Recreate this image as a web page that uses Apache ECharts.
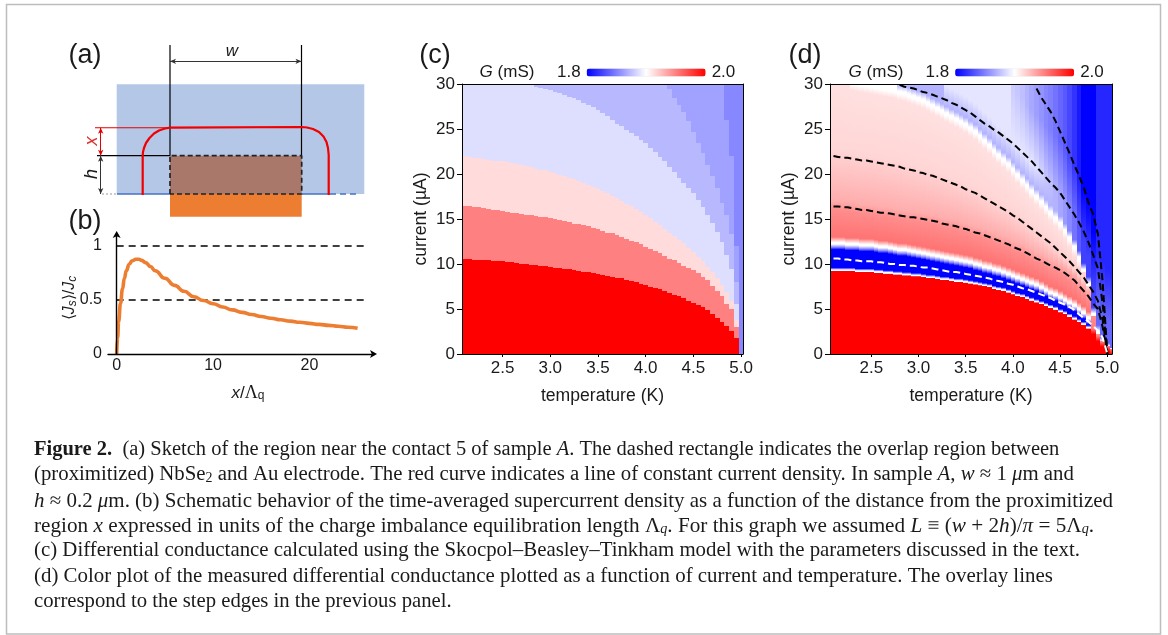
<!DOCTYPE html>
<html><head><meta charset="utf-8">
<style>html,body{margin:0;padding:0;background:#fff}#c{width:1168px;height:635px}</style>
<script src="https://cdn.jsdelivr.net/npm/echarts@6/dist/echarts.min.js"></script>
</head><body><div id="c"></div>
<script>
// ---------- tick labels ----------
const tempTicks = [2.5, 3.0, 3.5, 4.0, 4.5, 5.0];
const bXTicks = [0, 10, 20];
const bYTicks = [0, 0.5, 1];

// ---------- panel (b): supercurrent density ----------
const bX = [0,0.1,0.2,0.4,0.6,0.8,1,1.3,1.6,2,2.3,2.6,3,3.5,4,5,6,7,8,9,10,11,12,13,14,15,16,17,18,19,20,21,22,23,24,25];
const bY = [0,0.15,0.3,0.47,0.6,0.7,0.77,0.83,0.862,0.876,0.876,0.866,0.845,0.81,0.77,0.7,0.635,0.58,0.53,0.495,0.465,0.435,0.408,0.385,0.365,0.347,0.331,0.317,0.304,0.293,0.283,0.274,0.265,0.256,0.247,0.238];
const bLevels = [1, 0.5];

// ---------- panel (a): sketch, units relative to the overlap corner ----------
const sketchBlue = [-53.3, 194.3, 0, 109.7];
const sketchOverlap = [0, 131.7, 0, 38.3];
const sketchElectrode = [0, 131.7, -22.7, 0];
const sketchContour = [[-27.3,-1],[-27.3,38.3],[-27,42],[-26,46],[-24,51],[-20.5,56],[-16,60.5],[-11,63.5],[-5,65.5],[0,66.3],[131.5,67],[137,66.5],[143,65],[149,62],[153.5,57.5],[156.5,52],[158,46],[158.7,39],[158.7,-1]];

// ---------- panels (c), (d): temperature columns ----------
const temps = [2.10,2.15,2.20,2.25,2.30,2.35,2.40,2.45,2.50,2.55,
  2.60,2.65,2.70,2.75,2.80,2.85,2.90,2.95,3.00,3.05,
  3.10,3.15,3.20,3.25,3.30,3.35,3.40,3.45,3.50,3.55,
  3.60,3.65,3.70,3.75,3.80,3.85,3.90,3.95,4.00,4.05,
  4.10,4.15,4.20,4.25,4.30,4.35,4.40,4.45,4.50,4.55,
  4.60,4.65,4.70,4.75,4.80,4.85,4.90,4.95,5.00,5.05];

// panel (c): conductance of each step, and the current at the top of each step per column
const stepG = [2.0, 1.95, 1.914, 1.887, 1.872, 1.863, 1.853];
const edge1 = [10.6,10.6,10.5,10.5,10.4,10.4,10.3,10.3,10.3,10.2,
  10.2,10.1,10.0,10.0,9.9,9.9,9.8,9.8,9.7,9.6,
  9.6,9.5,9.4,9.3,9.2,9.1,9.1,9.0,8.9,8.8,
  8.7,8.6,8.5,8.4,8.2,8.1,8.0,7.8,7.7,7.5,
  7.3,7.2,7.0,6.8,6.6,6.4,6.2,5.9,5.7,5.5,
  5.2,4.9,4.4,4.0,3.6,3.1,2.6,1.8,0];
const edge2 = [16.4,16.4,16.3,16.3,16.2,16.1,16.0,16.0,15.9,15.8,
  15.7,15.7,15.6,15.5,15.4,15.3,15.2,15.2,15.1,15.0,
  14.9,14.8,14.7,14.5,14.4,14.3,14.2,14.0,13.9,13.7,
  13.5,13.4,13.2,13.0,12.8,12.6,12.4,12.2,11.9,11.7,
  11.5,11.2,10.9,10.6,10.4,10.1,9.8,9.6,9.3,9.0,
  8.6,8.2,7.6,7.0,6.4,5.6,5.0,3.0,0];
const edge3 = [22.0,21.9,21.8,21.8,21.7,21.6,21.5,21.5,21.4,21.3,
  21.2,21.1,21.0,20.9,20.8,20.6,20.5,20.4,20.2,20.1,
  19.9,19.8,19.6,19.4,19.2,19.0,18.8,18.6,18.3,18.1,
  17.9,17.6,17.3,17.0,16.7,16.4,16.1,15.8,15.4,15.1,
  14.7,14.3,13.9,13.5,13.1,12.7,12.3,11.8,11.3,10.8,
  10.3,9.7,9.1,8.5,7.7,6.9,5.9,3.8,0];
const edge4 = [30,30,30,30,30,30,30,30,30,30,
  30,30,30,30,29.9,29.7,29.6,29.5,29.3,29.1,
  29.0,28.8,28.6,28.4,28.2,27.9,27.7,27.4,27.1,26.8,
  26.4,26.0,25.6,25.3,24.9,24.6,24.2,23.8,23.4,22.9,
  22.4,21.9,21.4,20.8,20.2,19.6,19.0,18.5,17.9,17.1,
  16.3,15.5,14.6,13.6,12.4,11.0,9.5,5.6,0];
const edge5 = [30,30,30,30,30,30,30,30,30,30,
  30,30,30,30,30,30,30,30,30,30,
  30,30,30,30,30,30,30,30,30,30,
  30,30,30,30,30,30,30,30,30,30,
  30,30,30,29.5,28.5,27.7,26.9,25.9,24.7,23.5,
  22.3,21.0,19.8,18.5,16.8,15.5,13.3,8,0];
const edge6 = [30,30,30,30,30,30,30,30,30,30,
  30,30,30,30,30,30,30,30,30,30,
  30,30,30,30,30,30,30,30,30,30,
  30,30,30,30,30,30,30,30,30,30,
  30,30,30,30,30,30,30,30,30,30,
  30,30,30,30,30,26,22,12,0];

// panel (d): measured profile per column
const measIc = [9.2,9.2,9.2,9.2,9.2,9.1,9.1,9.1,9.1,9.0,
  9.0,8.9,8.9,8.8,8.8,8.7,8.7,8.6,8.6,8.5,
  8.4,8.4,8.3,8.2,8.2,8.1,8.0,8.0,7.9,7.8,
  7.7,7.6,7.5,7.4,7.2,7.1,7.0,6.8,6.6,6.4,
  6.3,6.1,5.9,5.7,5.5,5.3,5.1,4.9,4.6,4.4,
  4.1,3.8,3.5,3.2,2.8,2.2,1.4,0.8,0.3,0];
const measBlueTop = [11.6,11.6,11.6,11.5,11.5,11.5,11.4,11.4,11.4,11.3,
  11.2,11.2,11.1,11.0,10.9,10.9,10.8,10.7,10.6,10.5,
  10.4,10.3,10.2,10.1,10.0,9.9,9.8,9.7,9.6,9.5,
  9.3,9.2,9.0,8.9,8.7,8.6,8.4,8.2,8.0,7.8,
  7.6,7.4,7.2,7.0,6.7,6.4,6.1,5.9,5.6,5.3,
  5.0,4.7,4.3,3.9,3.3,2.2,1.4,0.8,0.3,0];
const measWhite = [31,31,30.8,30.5,30.3,30.2,30.1,30,29.9,29.8,
  29.7,29.6,29.5,29.4,29.2,29.1,28.9,28.7,28.5,28.3,
  28.0,27.7,27.4,27.1,26.8,26.5,26.2,25.9,25.6,25.2,
  24.8,24.3,23.8,23.3,22.7,22.2,21.7,21.2,20.6,20.0,
  19.4,18.8,18.2,17.6,17.0,16.4,15.8,15.2,14.6,13.8,
  13.0,12.0,10.8,9.4,7.9,4.5,2.5,1.2,0.5,0];
const measTopG = [1.893,1.893,1.893,1.893,1.893,1.893,1.893,1.893,1.893,1.893,
  1.89,1.89,1.89,1.89,1.89,1.89,1.89,1.89,1.89,1.89,
  1.89,1.89,1.89,1.89,1.89,1.89,1.89,1.89,1.89,1.89,
  1.888,1.888,1.887,1.886,1.885,1.885,1.884,1.883,1.88,1.878,
  1.875,1.87,1.866,1.862,1.858,1.853,1.85,1.845,1.84,1.835,
  1.828,1.82,1.81,1.80,1.80,1.80,1.815,1.815,1.815,1.815];

// ---------- helpers ----------
const SANS = '"Liberation Sans", Arial, sans-serif';
const SERIF = '"Liberation Serif", "Times New Roman", serif';
const AXIS = '#1a1a1a';
function gColor(g){
  const t = Math.max(-1, Math.min(1, (g - 1.9) / 0.1));
  const c = Math.round(255 * (1 - Math.abs(t)));
  return t >= 0 ? `rgb(255,${c},${c})` : `rgb(${c},${c},255)`;
}
const xAxes = [], yAxes = [], series = [];
const grids = [
  {left: 90, top: 40, width: 290, height: 180},
  {left: 108, top: 234, width: 266, height: 120},
  {left: 462, top: 84, width: 281, height: 270},
  {left: 830, top: 84, width: 282, height: 270}
];
// (a)
xAxes.push({gridIndex:0, type:'value', min:-80, max:210, show:false});
yAxes.push({gridIndex:0, type:'value', min:-26, max:154, show:false});
// (b)
xAxes.push({gridIndex:1, type:'value', min:-0.9, max:26.7, z:5,
  axisLine:{onZero:true, lineStyle:{color:'#000', width:1.4}, symbol:['none','arrow'], symbolSize:[6,7], symbolOffset:[0,3]},
  axisTick:{show:false}, splitLine:{show:false},
  axisLabel:{customValues:bXTicks, color:AXIS, fontFamily:SANS, fontSize:16, margin:4, formatter:v=>String(v)}});
yAxes.push({gridIndex:1, type:'value', min:0, max:1.11, z:5,
  axisLine:{onZero:true, lineStyle:{color:'#000', width:1.4}, symbol:['none','arrow'], symbolSize:[6,7], symbolOffset:[0,3]},
  axisTick:{show:false}, splitLine:{show:false},
  axisLabel:{customValues:bYTicks, color:AXIS, fontFamily:SANS, fontSize:16, margin:6, formatter:v=>String(v)}});
// (c), (d) main axes
function heatAxes(g, xMin, xMax){
  const line = {show:true, onZero:false, lineStyle:{color:'#000', width:1}};
  xAxes.push({gridIndex:g, type:'value', min:xMin, max:xMax, z:5, position:'bottom',
    name:'temperature (K)', nameLocation:'middle', nameGap:33,
    nameTextStyle:{color:AXIS, fontFamily:SANS, fontSize:17.6},
    axisLine:line, splitLine:{show:false},
    axisTick:{customValues:tempTicks, length:3, lineStyle:{color:'#000'}},
    axisLabel:{customValues:tempTicks, color:AXIS, fontFamily:SANS, fontSize:17, margin:6, formatter:v=>v.toFixed(1)}});
  yAxes.push({gridIndex:g, type:'value', min:0, max:30, interval:5, z:5, position:'left',
    name:'current (µA)', nameLocation:'middle', nameGap:32,
    nameTextStyle:{color:AXIS, fontFamily:SANS, fontSize:17.6},
    axisLine:line, splitLine:{show:false},
    axisTick:{length:5, lineStyle:{color:'#000'}},
    axisLabel:{color:AXIS, fontFamily:SANS, fontSize:17, margin:7}});
}
heatAxes(2, 2.075, 5.02);
heatAxes(3, 2.063, 5.049);
// closing top and right frame lines
[2,3].forEach(g=>{
  xAxes.push({gridIndex:g, type:'value', position:'top', min:0, max:1, z:5, axisLine:{show:true,onZero:false,lineStyle:{color:'#000',width:1}}, axisTick:{show:false}, axisLabel:{show:false}, splitLine:{show:false}});
  yAxes.push({gridIndex:g, type:'value', position:'right', min:0, max:1, z:5, axisLine:{show:true,onZero:false,lineStyle:{color:'#000',width:1}}, axisTick:{show:false}, axisLabel:{show:false}, splitLine:{show:false}});
});

function rectSeries(box, color, z){
  series.push({type:'custom', xAxisIndex:0, yAxisIndex:0, z, silent:true, clip:false,
    data:[box], encode:{x:[0,1], y:[2,3]},
    renderItem:(p, api)=>{
      const a = api.coord([api.value(0), api.value(2)]), b = api.coord([api.value(1), api.value(3)]);
      return {type:'rect', shape:{x:a[0], y:b[1], width:b[0]-a[0], height:a[1]-b[1]}, style:{fill:color}};
    }});
}
function pathSeries(gi, pts, color, width, type, z, extra){
  series.push(Object.assign({type:'line', xAxisIndex:gi, yAxisIndex:gi, data:pts, showSymbol:false, symbol:'none', silent:true, z:z||4,
    lineStyle:{color, width, type:type||'solid'}}, extra||{}));
}
function arrowSeries(p, q, color){
  series.push({type:'line', xAxisIndex:0, yAxisIndex:0, data:[p,q], symbol:'none', silent:true, z:5,
    lineStyle:{width:0},
    markLine:{silent:true, animation:false, symbol:['arrow','arrow'], symbolSize:[4,6], label:{show:false},
      lineStyle:{color, width:1, type:'solid'},
      data:[[{coord:p},{coord:q}]]}});
}
// ----- panel (a)
rectSeries(sketchBlue, '#b4c7e7', 2);
rectSeries(sketchOverlap, '#a9786a', 3);
rectSeries(sketchElectrode, '#ed7d31', 3);
pathSeries(0, [[-53,0],[0,0]], '#4472c4', 1.4);
pathSeries(0, [[131.7,0],[160,0]], '#4472c4', 1.4);
pathSeries(0, [[160,0],[186,0]], '#4472c4', 1.4, [6,4]);
pathSeries(0, [[-68,0],[-53,0]], '#999999', 1, [2,2]);
pathSeries(0, [[0,38.3],[0,149]], '#000', 1.2);
pathSeries(0, [[131.5,38.3],[131.5,149]], '#000', 1.2);
pathSeries(0, [[-73,38.3],[0,38.3]], '#000', 1.2);
pathSeries(0, [[-75,66.3],[0,66.3]], '#e00000', 1.1);
pathSeries(0, [[0,0],[0,38.3],[131.7,38.3],[131.7,0],[0,0]], '#222', 1.7, [5,3]);
pathSeries(0, sketchContour, '#f00000', 2.2, 'solid', 6);
arrowSeries([0,132.7],[131.5,132.7], '#333');
arrowSeries([-69.3,66.3],[-69.3,38.3], '#e00000');
arrowSeries([-69.3,38.3],[-69.3,0], '#333');
// ----- panel (b)
bLevels.forEach(v=>pathSeries(1, [[0,v],[25.9,v]], '#000', 1.5, [7,5], 3));
pathSeries(1, bX.map((x,i)=>[x,bY[i]]), '#ed7d31', 3.6, 'solid', 4, {smooth:true, smoothMonotone:'x'});
// ----- panel (c)
const cRows = [];
temps.slice(0,59).forEach((T,i)=>{
  const tops = [edge1[i],edge2[i],edge3[i],edge4[i],edge5[i],edge6[i],30];
  let low = 0;
  tops.forEach((top,k)=>{ if(top>low){ cRows.push([T,low,top,stepG[k]]); low = top; } });
});
const cIndex = series.length;
series.push({type:'custom', xAxisIndex:2, yAxisIndex:2, z:2, silent:true, clip:true, data:cRows,
  dimensions:['T','low','high','G'], encode:{x:0, y:[1,2]},
  renderItem:(p, api)=>{
    const T = api.value(0);
    const a = api.coord([T-0.025, api.value(1)]), b = api.coord([T+0.025, api.value(2)]);
    const x0 = Math.round(a[0]), x1 = Math.round(b[0]), y0 = Math.round(a[1]), y1 = Math.round(b[1]);
    return {type:'rect', shape:{x:x0, y:y1, width:x1-x0, height:y0-y1}, style:{fill:api.visual('color')}};
  }});
// ----- panel (d)
function measuredStops(i){
  const ic = measIc[i], bt = measBlueTop[i], w = measWhite[i], top = measTopG[i];
  const e2 = edge2[i]||0, e3 = edge3[i]||0, cap = w - 0.3;
  const mid = Math.min(1.89, top + 0.025);
  const raw = [[0,2],[ic,2]];
  if(bt > ic + 0.3){
    raw.push([ic+0.05,1.9],[ic+0.15,1.9],[ic+0.4,1.8],[bt,1.8],[bt+0.25,1.85],[bt+0.6,1.9],[bt+0.8,1.9],[bt+1.4,1.955]);
  } else {
    raw.push([ic+0.6,1.95]);
  }
  raw.push([Math.min(e2-0.4,cap),1.945],[Math.min(e2+0.6,cap),1.932],[Math.min(e3-0.4,cap),1.92],[Math.min(e3+0.6,cap),1.916],[Math.min(w-1,cap),1.912],[cap,1.9],[w,1.9],[w+0.7,Math.min(1.87,mid)],[w+3,mid],[w+9,top],[30,top]);
  let prev = 0; const out = [];
  raw.forEach(([c,g])=>{ prev = Math.max(prev,c); if(prev<=30) out.push({offset:prev/30, color:gColor(g)}); });
  return out;
}
const dAxisMin = 2.063, dAxisMax = 5.049;
series.push({type:'custom', xAxisIndex:3, yAxisIndex:3, z:2, silent:true, clip:true,
  data:temps.map(T=>[T,0,30]), encode:{x:0, y:[1,2]},
  renderItem:(p, api)=>{
    const i = p.dataIndex, T = api.value(0);
    const a = api.coord([i===0?dAxisMin:T-0.025, 0]), b = api.coord([i===temps.length-1?dAxisMax:T+0.025, 30]);
    const x0 = Math.round(a[0]), x1 = Math.round(b[0]);
    return {type:'rect', shape:{x:x0, y:b[1], width:x1-x0, height:a[1]-b[1]},
      style:{fill:new echarts.graphic.LinearGradient(0,1,0,0,measuredStops(i))}};
  }});
function overlay(edge, color){
  const pts = [];
  edge.forEach((v,i)=>{ if(v<30) pts.push([temps[i],v]); });
  pathSeries(3, pts, color, 2, [7,4], 4, {clip:true});
}
[edge2,edge3,edge4,edge5].forEach(e=>overlay(e,'#000'));
overlay(edge1,'#fff');

// ---------- colour bars ----------
function bar(left){
  return {type:'continuous', seriesIndex:cIndex, dimension:3, min:1.8, max:2.0, orient:'horizontal',
    left, top:64, padding:0, itemWidth:8, itemHeight:119, text:['2.0','1.8'], textGap:6,
    calculable:false, hoverLink:false, showLabel:true,
    inRange:{color:['#0000ff','#ffffff','#ff0000']},
    textStyle:{color:AXIS, fontFamily:SANS, fontSize:17}};
}

// ---------- texts ----------
const g = [];
function txt(x,y,text,opt){
  const o = opt||{};
  g.push({type:'text', x, y, rotation:o.rotation||0, silent:true, z:20, style:{
    text, fill:o.fill||AXIS, fontFamily:o.family||SANS, fontSize:o.size||17, fontStyle:o.italic?'italic':'normal',
    align:o.align||'center', verticalAlign:'middle', rich:o.rich}});
}
g.push({type:'rect', silent:true, z:0, shape:{x:6.5,y:4.5,width:1154,height:629.5}, style:{fill:'none', stroke:'#bdbdbd', lineWidth:1.5}});
txt(85,56,'(a)',{size:27});
txt(85,222,'(b)',{size:27});
txt(435,56,'(c)',{size:27});
txt(805,56,'(d)',{size:27});
txt(232,51,'w',{size:17,italic:true});
txt(92,141,'x',{size:18,italic:true,fill:'#e03030',rotation:Math.PI/2});
txt(92,174,'h',{size:18,italic:true,rotation:Math.PI/2});
const panelRich = {
  it:{fontFamily:SANS,fontStyle:'italic',fontSize:17,color:AXIS},
  n:{fontFamily:SANS,fontSize:17,color:AXIS},
  g:{fontFamily:SANS,fontSize:16,color:'#777'},
  a:{fontFamily:SANS,fontStyle:'italic',fontSize:16,color:AXIS},
  d:{fontFamily:SANS,fontSize:16,color:AXIS},
  s:{fontFamily:SANS,fontStyle:'italic',fontSize:12,color:AXIS,verticalAlign:'bottom',padding:[5,0,0,0]},
  m:{fontFamily:SERIF,fontSize:18,color:AXIS},
  q:{fontFamily:SANS,fontSize:12,color:AXIS,verticalAlign:'bottom',padding:[5,0,0,0]}
};
txt(507,72.5,'{it|G} {n|(mS)}',{rich:panelRich});
txt(876,72.5,'{it|G} {n|(mS)}',{rich:panelRich});
txt(70,298,'{g|⟨}{a|J}{s|s}{g|⟩}{d|/}{a|J}{s|c}',{rich:panelRich,rotation:Math.PI/2});
txt(248,393,'{it|x}{n|/}{m|Λ}{q|q}',{rich:panelRich});

function capRich(size){
  const sub = size*0.67;
  return {
    n:{fontFamily:SERIF,fontSize:size,color:'#222'},
    b:{fontFamily:SERIF,fontSize:size,fontWeight:'bold',color:'#222'},
    i:{fontFamily:SERIF,fontSize:size,fontStyle:'italic',color:'#222'},
    u:{fontFamily:SERIF,fontSize:sub,color:'#222',verticalAlign:'bottom',padding:[6,0,0,0]},
    v:{fontFamily:SERIF,fontSize:sub,fontStyle:'italic',color:'#222',verticalAlign:'bottom',padding:[6,0,0,0]}
  };
}
const captionLines = [
  '{b|Figure 2.}{n|  (a) Sketch of the region near the contact 5 of sample }{i|A}{n|. The dashed rectangle indicates the overlap region between}',
  '{n|(proximitized) NbSe}{u|2}{n| and Au electrode. The red curve indicates a line of constant current density. In sample }{i|A}{n|, }{i|w}{n| ≈ 1 }{i|μ}{n|m and}',
  '{i|h}{n| ≈ 0.2 }{i|μ}{n|m. (b) Schematic behavior of the time-averaged supercurrent density as a function of the distance from the proximitized}',
  '{n|region }{i|x}{n| expressed in units of the charge imbalance equilibration length Λ}{v|q}{n|. For this graph we assumed }{i|L}{n| ≡ (}{i|w}{n| + 2}{i|h}{n|)/}{i|π}{n| = 5Λ}{v|q}{n|.}',
  '{n|(c) Differential conductance calculated using the Skocpol–Beasley–Tinkham model with the parameters discussed in the text.}',
  '{n|(d) Color plot of the measured differential conductance plotted as a function of current and temperature. The overlay lines}',
  '{n|correspond to the step edges in the previous panel.}'
];
const captionRows = [450,475,501,526,551,577,602];
const captionSizes = [20.5,20.8,20.95,21.2,20.85,20.9,20.7];
captionLines.forEach((s,i)=>txt(34,captionRows[i],s,{align:'left',rich:capRich(captionSizes[i]),family:SERIF,size:captionSizes[i]}));

const chart = echarts.init(document.getElementById('c'), null, {renderer:'canvas'});
chart.setOption({
  animation:false, backgroundColor:'#fff',
  grid:grids, xAxis:xAxes, yAxis:yAxes, series,
  visualMap:[bar(557), bar(925.5)],
  graphic:{elements:g}
});
</script></body></html>
